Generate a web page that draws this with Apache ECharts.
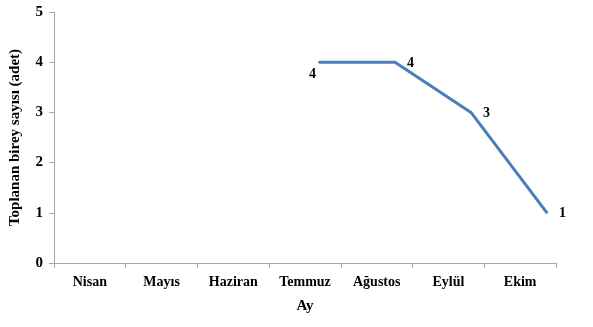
<!DOCTYPE html>
<html>
	<head>
		<meta charset="UTF-8">
		<title>Toplanan birey sayısı</title>
		<style>
			html, body { margin: 0; padding: 0; background: #fff; }
			#chart { width: 593px; height: 327px; }
		</style>
	</head>
	<body>
		<div id="chart"></div>
		<script src="https://cdn.jsdelivr.net/npm/echarts@6/dist/echarts.min.js"></script>
		<script>
			// aylar ve toplanan birey sayıları
			var months = ['Nisan', 'Mayıs', 'Haziran', 'Temmuz', 'Ağustos', 'Eylül', 'Ekim'];
			var counts = [null, null, null, 4, 4, 3, 1];
			var yTicks = [0, 1, 2, 3, 4, 5];

			var font = '"Liberation Serif", "Times New Roman", serif';
			var lineColor = '#4a7ebb';
			var axisColor = '#a6a6a6';
			var chart = echarts.init(document.getElementById('chart'));

			// ilk noktanın etiketi sol altta, diğerleri sağda
			var firstIdx = counts.findIndex(function(v) { return v != null; });
			var seriesData = counts.map(function(v, i) {
				if (i === firstIdx) {
					return { value: v, label: { position: 'left', offset: [3, 12] } };
				}
				return v;
			});

			var option = {
				backgroundColor: '#fff',
				animation: false,
				// grid 0: görünen eksenler; grid 1: çizginin çizildiği (orijinaldeki gibi biraz kaymış) alan
				grid: [
					{ left: 54, right: 37, top: 12, bottom: 64, outerBoundsMode: 'none', containLabel: false },
					{ left: 91, right: 46, top: 12, bottom: 64, outerBoundsMode: 'none', containLabel: false }
				],
				xAxis: [{
					type: 'category',
					gridIndex: 0,
					data: months,
					name: 'Ay',
					nameLocation: 'middle',
					nameGap: 36,
					nameTextStyle: { fontFamily: font, fontWeight: 'bold', fontSize: 15, color: '#000' },
					axisLine: { lineStyle: { color: axisColor } },
					axisTick: { show: true, length: 5, lineStyle: { color: axisColor } },
					axisLabel: { fontFamily: font, fontWeight: 'bold', fontSize: 14, color: '#000', margin: 12 }
				}, {
					type: 'category',
					gridIndex: 1,
					data: months,
					boundaryGap: false,
					show: false
				}],
				yAxis: [{
					type: 'value',
					gridIndex: 0,
					min: yTicks[0],
					max: yTicks[yTicks.length - 1],
					interval: 1,
					name: 'Toplanan birey sayısı (adet)',
					nameLocation: 'middle',
					nameGap: 31,
					nameTextStyle: { fontFamily: font, fontWeight: 'bold', fontSize: 15, color: '#000' },
					splitLine: { show: false },
					axisLine: { show: true, lineStyle: { color: axisColor } },
					axisTick: { show: true, length: 5, lineStyle: { color: axisColor } },
					axisLabel: { fontFamily: font, fontWeight: 'bold', fontSize: 15, color: '#000', margin: 11 }
				}, {
					type: 'value',
					gridIndex: 1,
					min: yTicks[0],
					max: yTicks[yTicks.length - 1],
					interval: 1,
					show: false,
					splitLine: { show: false }
				}],
				series: [{
					type: 'line',
					xAxisIndex: 1,
					yAxisIndex: 1,
					data: seriesData,
					showSymbol: true,
					symbol: 'circle',
					symbolSize: 2,
					itemStyle: { color: lineColor },
					connectNulls: false,
					lineStyle: { color: lineColor, width: 3 },
					label: {
						show: true,
						position: 'right',
						offset: [6, 1],
						fontFamily: font,
						fontWeight: 'bold',
						fontSize: 14,
						color: '#000'
					}
				}]
			};
			chart.setOption(option);
		</script>
	</body>
</html>
